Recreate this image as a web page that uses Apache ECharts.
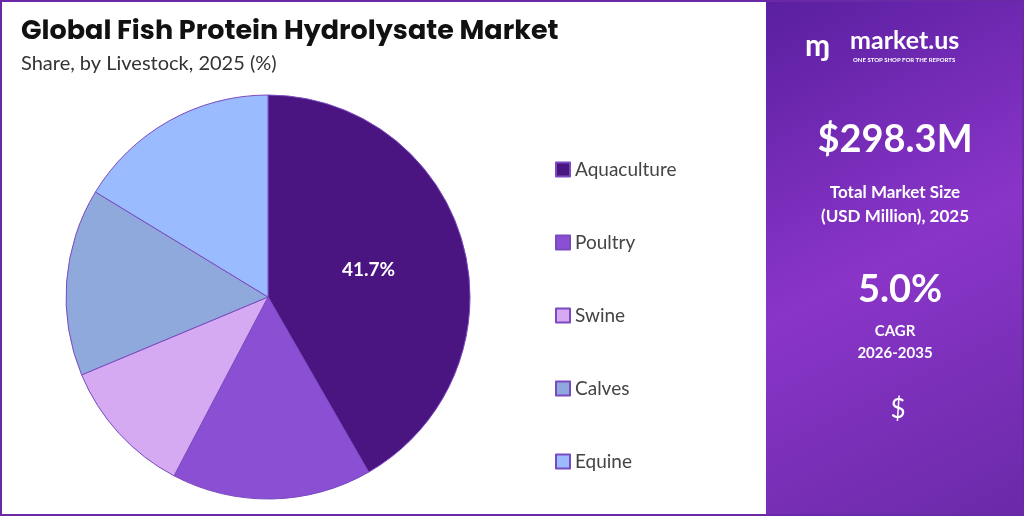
<!DOCTYPE html>
<html>
<head>
<meta charset="utf-8">
<script src="https://cdn.jsdelivr.net/npm/echarts@6/dist/echarts.min.js"></script>
<style>
  html, body { margin: 0; padding: 0; }
  #main { width: 1024px; height: 516px; }
</style>
</head>
<body>
<div id="main"></div>
<script>
var categories = ['Aquaculture', 'Poultry', 'Swine', 'Calves', 'Equine'];
var shares = [41.7, 16.0, 11.0, 15.0, 16.3];
var colors = ['#4a1580', '#8a4fd2', '#d5aaf2', '#8fa9dc', '#9abcff'];

var myChart = echarts.init(document.getElementById('main'));

var data = categories.map(function (c, i) {
    return {
        name: c,
        value: shares[i],
        itemStyle: { color: colors[i] },
        label: { show: i === 0 }
    };
});

var option = {
    backgroundColor: '#ffffff',
    title: {
        text: 'Global Fish Protein Hydrolysate Market',
        subtext: 'Share, by Livestock, 2025 (%)',
        left: 16,
        top: 14,
        itemGap: 8,
        textStyle: { fontFamily: 'Poppins, Lato, sans-serif', fontWeight: 'bold', fontSize: 27, color: '#111' },
        subtextStyle: { fontFamily: 'Lato, sans-serif', fontSize: 20, color: '#333' }
    },
    legend: {
        orient: 'vertical',
        left: 550,
        top: 155,
        itemWidth: 14,
        itemHeight: 14,
        itemGap: 54,
        icon: 'rect',
        data: categories,
        textStyle: { fontFamily: 'Lato, sans-serif', fontSize: 19, color: '#444', padding: [0, 0, 0, 0] }
    },
    graphic: [
        {
            type: 'rect',
            shape: { x: 766, y: 0, width: 258, height: 516 },
            style: {
                fill: new echarts.graphic.LinearGradient(0, 0, 1, 1, [
                    { offset: 0, color: '#5a1fa0' },
                    { offset: 0.5, color: '#8a35c8' },
                    { offset: 1, color: '#6a2aa8' }
                ])
            }
        },
        {
            type: 'rect',
            shape: { x: 1, y: 1, width: 1022, height: 514 },
            style: { fill: 'none', stroke: '#6a2aa8', lineWidth: 2 }
        },
        { type: 'text', left: 850, top: 28, style: { text: 'market.us', fill: '#fff', font: 'bold 25px Lato, sans-serif' } },
        { type: 'text', left: 853, top: 57, style: { text: 'ONE STOP SHOP FOR THE REPORTS', fill: '#fff', font: 'bold 6px Lato, sans-serif' } },
        { type: 'text', left: 805, top: 31, style: { text: 'ɱ', fill: '#fff', font: 'bold 30px Lato, sans-serif' } },
        { type: 'text', x: 895, y: 140, style: { text: '$298.3M', fill: '#fff', font: 'bold 38px Lato, sans-serif', align: 'center', verticalAlign: 'middle' } },
        { type: 'text', x: 895, y: 205, style: { text: 'Total Market Size\n(USD Million), 2025', fill: '#fff', font: 'bold 17px Lato, sans-serif', align: 'center', verticalAlign: 'middle', lineHeight: 24 } },
        { type: 'text', x: 900, y: 290, style: { text: '5.0%', fill: '#fff', font: 'bold 38px Lato, sans-serif', align: 'center', verticalAlign: 'middle' } },
        { type: 'text', x: 895, y: 342, style: { text: 'CAGR\n2026-2035', fill: '#fff', font: 'bold 15px Lato, sans-serif', align: 'center', verticalAlign: 'middle', lineHeight: 22 } },
        { type: 'text', x: 898, y: 410, style: { text: '$', fill: '#fff', font: '26px Lato, sans-serif', align: 'center', verticalAlign: 'middle' } }
    ],
    series: [{
        type: 'pie',
        center: [268, 297],
        radius: [0, 202],
        startAngle: 90,
        clockwise: true,
        data: data,
        itemStyle: { borderColor: '#7a4ac0', borderWidth: 1 },
        label: {
            position: 'inside',
            formatter: '{c}%',
            color: '#fff',
            fontFamily: 'Lato, sans-serif',
            fontWeight: 'bold',
            fontSize: 19
        },
        labelLine: { show: false },
        emphasis: { disabled: true },
        animation: false
    }]
};

myChart.setOption(option);
</script>
</body>
</html>
